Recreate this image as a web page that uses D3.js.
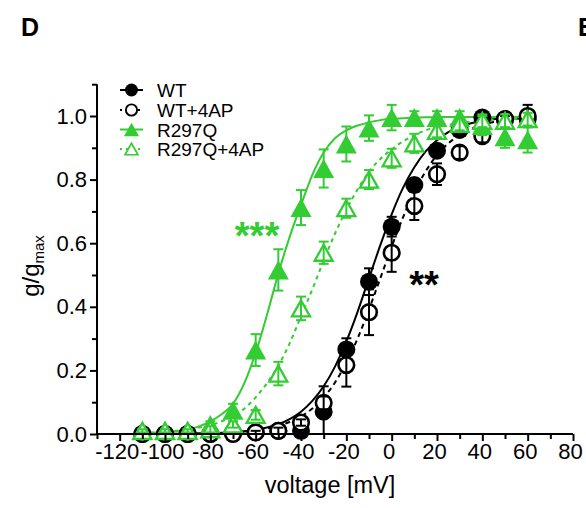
<!DOCTYPE html>
<html><head><meta charset="utf-8">
<script src="https://cdn.jsdelivr.net/npm/d3@7"></script>
<style>html,body{margin:0;padding:0;background:#fff;} svg{display:block;}</style>
</head><body>
<svg id="chart" width="586" height="508"></svg>
<script>
// ---- data ----
const voltages = [-110,-100,-90,-80,-70,-60,-50,-40,-30,-20,-10,0,10,20,30,40,50,60];
const wtMean      = [0.0,0.0,0.0,0.0,0.005,0.005,0.01,0.01,0.07,0.266,0.479,0.652,0.783,0.891,0.956,0.995,0.99,0.99];
const wtErr       = [0.005,0.005,0.005,0.005,0.005,0.005,0.008,0.01,0.08,0.035,0.042,0.031,0.02,0.015,0.01,0.01,0.01,0.01];
const wt4apMean   = [0.0,0.0,0.0,0.0,0.0,0.005,0.01,0.036,0.098,0.217,0.383,0.570,0.717,0.817,0.885,0.937,0.99,1.0];
const wt4apErr    = [0.005,0.005,0.005,0.005,0.005,0.005,0.01,0.01,0.02,0.068,0.072,0.06,0.044,0.034,0.02,0.02,0.01,0.035];
const r297qMean   = [0.01,0.01,0.01,0.03,0.075,0.264,0.516,0.712,0.835,0.912,0.962,0.995,0.995,0.995,0.995,0.97,0.935,0.925];
const r297qErr    = [0.005,0.005,0.005,0.01,0.02,0.05,0.065,0.055,0.06,0.055,0.04,0.04,0.02,0.02,0.02,0.03,0.035,0.04];
const r297q4apMean= [0.01,0.01,0.01,0.015,0.03,0.06,0.19,0.395,0.57,0.71,0.80,0.867,0.914,0.953,0.975,0.985,0.985,0.99];
const r297q4apErr = [0.005,0.005,0.005,0.01,0.01,0.015,0.037,0.037,0.035,0.03,0.03,0.03,0.03,0.02,0.02,0.02,0.02,0.02];

// fitted curves
const fitV = [-110,-105,-100,-95,-90,-85,-80,-75,-70,-65,-60,-55,-50,-45,-40,-35,-30,-25,-20,-15,-10,-5,0,5,10,15,20,25,30,35,40,45,50,55,60];
const wtFit       = [0.0002,0.0003,0.0005,0.0007,0.0011,0.0017,0.0026,0.004,0.0059,0.009,0.0137,0.0206,0.031,0.047,0.070,0.104,0.150,0.212,0.291,0.385,0.49,0.594,0.691,0.774,0.839,0.889,0.924,0.949,0.966,0.977,0.985,0.990,0.9936,0.9957,0.997];
const wt4apFit    = [0.0002,0.0003,0.0005,0.0007,0.0011,0.0016,0.0024,0.0036,0.0053,0.0079,0.0117,0.0173,0.0256,0.0377,0.0553,0.080,0.115,0.162,0.224,0.301,0.392,0.49,0.589,0.681,0.761,0.826,0.877,0.914,0.940,0.959,0.972,0.981,0.987,0.9915,0.9943];
const r297qFit    = [0.003,0.004,0.006,0.009,0.014,0.024,0.04,0.062,0.095,0.16,0.255,0.375,0.505,0.62,0.72,0.815,0.885,0.93,0.955,0.97,0.98,0.987,0.991,0.993,0.995,0.996,0.996,0.997,0.997,0.997,0.997,0.997,0.997,0.997,0.997];
const r297q4apFit = [0.004,0.005,0.007,0.01,0.014,0.02,0.028,0.04,0.055,0.08,0.115,0.16,0.215,0.285,0.37,0.455,0.545,0.63,0.705,0.77,0.825,0.865,0.895,0.92,0.94,0.955,0.965,0.972,0.978,0.982,0.985,0.988,0.99,0.991,0.992];

const xTicks = [-120,-100,-80,-60,-40,-20,0,20,40,60,80];
const xMinorTicks = [-130,-110,-90,-70,-50,-30,-10,10,30,50,70];
const yTicks = [0,0.2,0.4,0.6,0.8,1.0];
const yMinorTicks = [0.1,0.3,0.5,0.7,0.9,1.1];
const seriesNames = ["WT","WT+4AP","R297Q","R297Q+4AP"];

// ---- drawing ----
const GREEN = "#33cc33";
const FONT = "'Liberation Sans', Arial, Helvetica, sans-serif";
const svg = d3.select("#chart");
const x = d3.scaleLinear().domain([-130, 80]).range([97, 573]);
const y = d3.scaleLinear().domain([0, 1.1]).range([434, 84.2]);

const series = [
  {name: seriesNames[0], mean: wtMean, err: wtErr, fit: wtFit, color: "#000", shape: "circle", filled: true, dash: null},
  {name: seriesNames[1], mean: wt4apMean, err: wt4apErr, fit: wt4apFit, color: "#000", shape: "circle", filled: false, dash: "5,4"},
  {name: seriesNames[2], mean: r297qMean, err: r297qErr, fit: r297qFit, color: GREEN, shape: "triangle", filled: true, dash: null},
  {name: seriesNames[3], mean: r297q4apMean, err: r297q4apErr, fit: r297q4apFit, color: GREEN, shape: "triangle", filled: false, dash: "4,4"}
];

function triPath(w, h) {
  return `M0,${-h/2}L${w/2},${h/2}L${-w/2},${h/2}Z`;
}
function drawMarker(g, s, cx, cy, scale) {
  if (s.shape === "circle") {
    if (s.filled) {
      g.append("circle").attr("cx", cx).attr("cy", cy).attr("r", 9*scale).attr("fill", s.color);
    } else {
      g.append("circle").attr("cx", cx).attr("cy", cy).attr("r", 7.8*scale)
        .attr("fill", "#fff").attr("stroke", s.color).attr("stroke-width", 2.6*scale);
    }
  } else {
    if (s.filled) {
      g.append("path").attr("transform", `translate(${cx},${cy})`).attr("d", triPath(21*scale, 19*scale)).attr("fill", s.color);
    } else {
      g.append("path").attr("transform", `translate(${cx},${cy})`).attr("d", triPath(18*scale, 16*scale))
        .attr("fill", "#fff").attr("stroke", s.color).attr("stroke-width", 2.3*scale).attr("stroke-linejoin", "miter");
    }
  }
}

// fitted curves
const line = d3.line().x((d) => x(d[0])).y((d) => y(d[1])).curve(d3.curveMonotoneX);
series.forEach(s => {
  svg.append("path").datum(fitV.map((v, i) => [v, s.fit[i]]))
    .attr("d", line).attr("fill", "none").attr("stroke", s.color)
    .attr("stroke-width", 2).attr("stroke-dasharray", s.dash);
});

// points & error bars
series.forEach(s => {
  const g = svg.append("g");
  voltages.forEach((v, i) => {
    drawMarker(g, s, x(v), y(s.mean[i]), 1);
  });
  voltages.forEach((v, i) => {
    const cx = x(v);
    const top = y(s.mean[i] + s.err[i]), bot = y(Math.max(0, s.mean[i] - s.err[i]));
    g.append("line").attr("x1", cx).attr("x2", cx).attr("y1", top).attr("y2", bot)
      .attr("stroke", s.color).attr("stroke-width", 2);
    g.append("line").attr("x1", cx-5).attr("x2", cx+5).attr("y1", top).attr("y2", top)
      .attr("stroke", s.color).attr("stroke-width", 2);
    g.append("line").attr("x1", cx-5).attr("x2", cx+5).attr("y1", bot).attr("y2", bot)
      .attr("stroke", s.color).attr("stroke-width", 2);
  });
});

// axes
const xAxis = d3.axisBottom(x).tickValues(xTicks).tickSize(7).tickPadding(2).tickFormat(d => String(d));
const gx = svg.append("g").attr("transform", "translate(0,434)").call(xAxis);
gx.selectAll(".tick text").attr("dx", -3);
svg.append("g").attr("transform", "translate(0,434)")
  .call(d3.axisBottom(x).tickValues(xMinorTicks).tickSize(5).tickFormat(""))
  .select(".domain").remove();
const yAxis = d3.axisLeft(y).tickValues(yTicks).tickSize(7).tickPadding(3).tickFormat(d3.format(".1f"));
const gy = svg.append("g").attr("transform", "translate(97,0)").call(yAxis);
svg.append("g").attr("transform", "translate(97,0)")
  .call(d3.axisLeft(y).tickValues(yMinorTicks).tickSize(5).tickFormat(""))
  .select(".domain").remove();

svg.selectAll(".domain").attr("stroke", "#000").attr("stroke-width", 2);
svg.selectAll(".tick line").attr("stroke", "#000").attr("stroke-width", 2);
svg.selectAll(".tick text").attr("fill", "#000").attr("font-family", FONT).attr("font-size", 22);
gx.select(".domain").attr("d", `M${x(-130)},0H${x(80)}`);
gy.select(".domain").attr("d", `M0,${y(1.1)}V${y(0)}`);

// axis titles
svg.append("text").attr("x", 330).attr("y", 493).attr("text-anchor", "middle")
  .attr("font-family", FONT).attr("font-size", 23.5).text("voltage [mV]");
const yt = svg.append("text").attr("transform", "translate(39,266) rotate(-90)").attr("text-anchor", "middle")
  .attr("font-family", FONT).attr("font-size", 24);
yt.append("tspan").text("g/g");
yt.append("tspan").attr("font-size", 15).attr("dy", 5).text("max");

// significance stars
svg.append("text").attr("x", 257).attr("y", 249).attr("text-anchor", "middle")
  .attr("font-family", FONT).attr("font-weight", "bold").attr("font-size", 38).attr("fill", GREEN).text("***");
svg.append("text").attr("x", 424).attr("y", 298).attr("text-anchor", "middle")
  .attr("font-family", FONT).attr("font-weight", "bold").attr("font-size", 38).attr("fill", "#000").text("**");

// legend
const legendY = [90, 110, 129.5, 149];
series.forEach((s, i) => {
  const g = svg.append("g");
  const ly = legendY[i];
  g.append("line").attr("x1", 120).attr("x2", 143).attr("y1", ly).attr("y2", ly)
    .attr("stroke", s.color).attr("stroke-width", 2).attr("stroke-dasharray", s.dash ? "2,4" : null);
  drawMarker(g, s, 131.5, ly, 0.72);
  g.append("text").attr("x", 157).attr("y", ly + 7).attr("font-family", FONT).attr("font-size", 19)
    .attr("fill", "#000").text(s.name);
});

// panel letters
svg.append("text").attr("x", 21).attr("y", 36).attr("font-family", FONT).attr("font-weight", "bold").attr("font-size", 25).text("D");
svg.append("text").attr("x", 578).attr("y", 36).attr("font-family", FONT).attr("font-weight", "bold").attr("font-size", 25).text("E");
</script>
</body></html>
